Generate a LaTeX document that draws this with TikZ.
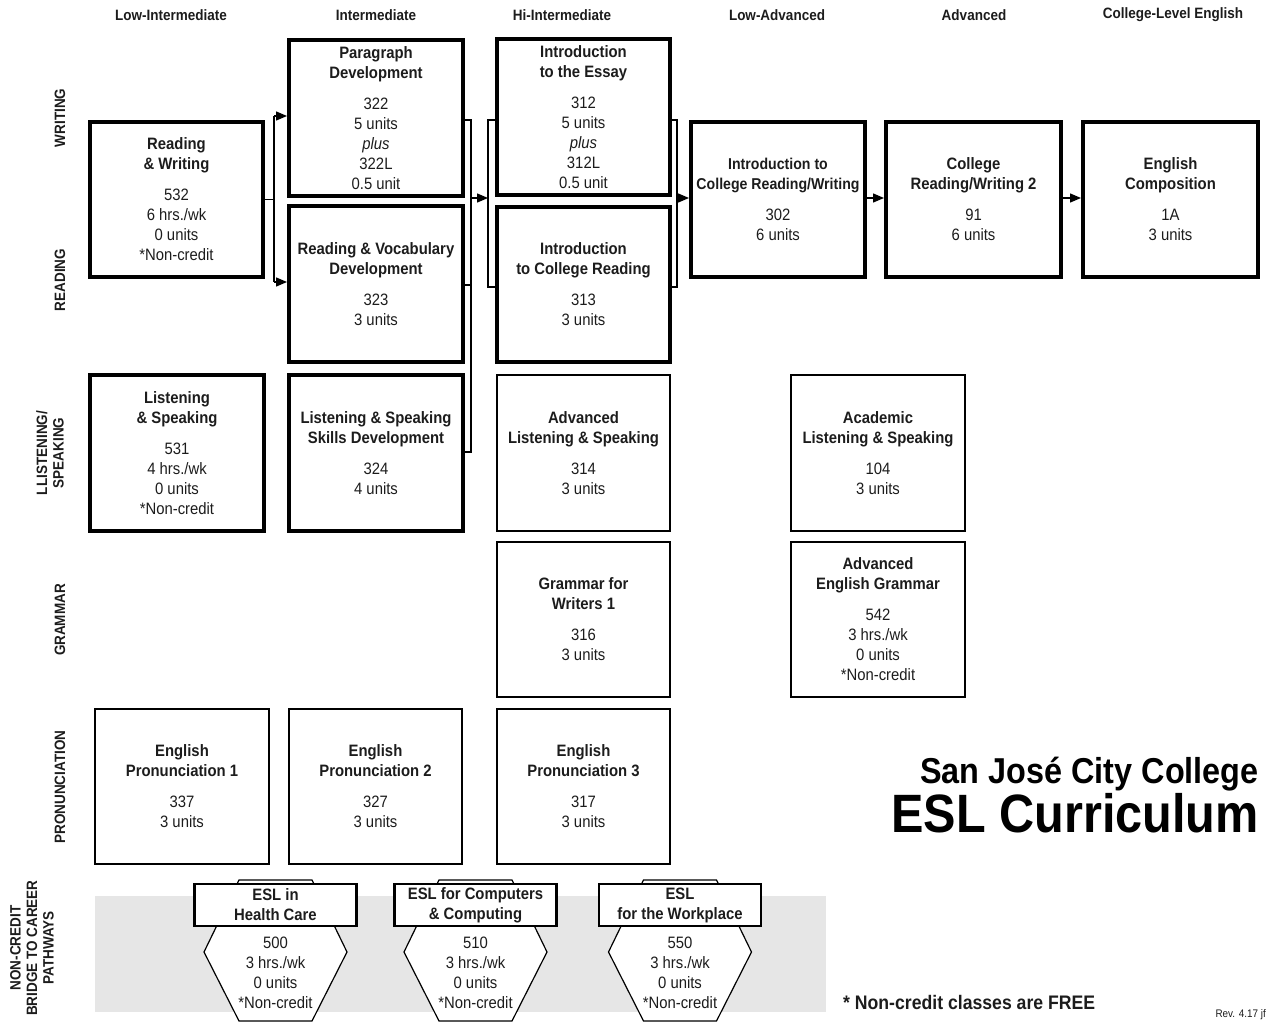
\documentclass[tikz,border=0pt]{standalone}
\usepackage{fontspec}
\setmainfont{Liberation Sans}[FakeStretch=0.9]
\usetikzlibrary{arrows.meta}
\definecolor{band}{RGB}{230,230,230}
\definecolor{ink}{RGB}{28,28,28}
\tikzset{
  box/.style={draw=black, align=center, minimum width=174pt, minimum height=156pt,
    inner sep=1pt, text=ink, font=\fontsize{16.5}{20}\selectfont},
  thk/.style={box, line width=4pt},
  thn/.style={box, line width=1.6pt},
  conn/.style={line width=1.4pt, black},
  arr/.style={conn, -{Triangle[length=11pt,width=9pt]}},
  hdr/.style={font=\bfseries\fontsize{15}{17}\selectfont, text=ink, inner sep=0pt},
  rowlab/.style={rotate=90, align=center, font=\bfseries\fontsize{15}{16.5}\selectfont, text=ink, inner sep=0pt},
  tag/.style={draw=black, fill=white, line width=2.2pt, minimum width=162pt, minimum height=42pt,
    inner sep=0pt, align=center, font=\bfseries\fontsize{16.5}{20}\selectfont, text=ink},
  hexfill/.style={draw=black, fill=white, line width=1.2pt},
  hextext/.style={align=center, inner sep=0pt, font=\fontsize{16.5}{20}\selectfont, text=ink},
}
\begin{document}
\begin{tikzpicture}[x=1pt,y=-1pt]
\useasboundingbox (0,0) rectangle (1267,1024);

% column headers
\node[hdr] (h1) at (171,15) {Low-Intermediate};
\node[hdr] (h2) at (376,15) {Intermediate};
\node[hdr] (h3) at (562,15) {Hi-Intermediate};
\node[hdr] (h4) at (777,15) {Low-Advanced};
\node[hdr] (h5) at (974,15) {Advanced};
\node[hdr] (h6) at (1173,15) {College-Level English};

% row labels
\node[rowlab] (rl1) at (60,118) {WRITING};
\node[rowlab] (rl2) at (60,280) {READING};
\node[rowlab] (rl3) at (50,453) {LLISTENING/\\SPEAKING};
\node[rowlab] (rl4) at (60,620) {GRAMMAR};
\node[rowlab] (rl5) at (60,787) {PRONUNCIATION};
\node[rowlab] (rl6) at (32,948) {NON-CREDIT\\BRIDGE TO CAREER\\PATHWAYS};

% writing / reading
\node[thk, minimum width=173pt, minimum height=155pt] (rw532) at (176.5,199.5)
  {\textbf{Reading}\\\textbf{\& Writing}\\[11pt]532\\6 hrs./wk\\0 units\\*Non-credit};
\node[thk] (p322) at (376,118)
  {\textbf{Paragraph}\\\textbf{Development}\\[11pt]322\\5 units\\\textit{plus}\\322L\\0.5 unit};
\node[thk] (rv323) at (376,284)
  {\textbf{Reading \& Vocabulary}\\\textbf{Development}\\[11pt]323\\3 units};
\node[thk, minimum width=173pt] (e312) at (583.5,117)
  {\textbf{Introduction}\\\textbf{to the Essay}\\[11pt]312\\5 units\\\textit{plus}\\312L\\0.5 unit};
\node[thk, minimum width=173pt, minimum height=155pt] (cr313) at (583.5,284.5)
  {\textbf{Introduction}\\\textbf{to College Reading}\\[11pt]313\\3 units};
\node[thk, minimum height=155pt] (c302) at (778,199.5)
  {{\fontsize{15.7}{20}\selectfont\textbf{Introduction to}}\\{\fontsize{15.7}{20}\selectfont\textbf{College Reading/Writing}}\\[11pt]302\\6 units};
\node[thk, minimum width=175pt, minimum height=155pt] (c91) at (973.5,199.5)
  {\textbf{College}\\\textbf{Reading/Writing 2}\\[11pt]91\\6 units};
\node[thk, minimum width=175pt, minimum height=155pt] (e1a) at (1170.5,199.5)
  {\textbf{English}\\\textbf{Composition}\\[11pt]1A\\3 units};

% listening / speaking
\node[thk] (ls531) at (177,453)
  {\textbf{Listening}\\\textbf{\& Speaking}\\[11pt]531\\4 hrs./wk\\0 units\\*Non-credit};
\node[thk] (ls324) at (376,453)
  {\textbf{Listening \& Speaking}\\\textbf{Skills Development}\\[11pt]324\\4 units};
\node[thn, minimum width=173pt] (ls314) at (583.5,453)
  {\textbf{Advanced}\\\textbf{Listening \& Speaking}\\[11pt]314\\3 units};
\node[thn] (ls104) at (878,453)
  {\textbf{Academic}\\\textbf{Listening \& Speaking}\\[11pt]104\\3 units};

% grammar
\node[thn, minimum width=173pt, minimum height=155pt] (g316) at (583.5,619.5)
  {\textbf{Grammar for}\\\textbf{Writers 1}\\[11pt]316\\3 units};
\node[thn, minimum height=155pt] (g542) at (878,619.5)
  {\textbf{Advanced}\\\textbf{English Grammar}\\[11pt]542\\3 hrs./wk\\0 units\\*Non-credit};

% pronunciation
\node[thn, minimum height=155pt] (p337) at (182,786.5)
  {\textbf{English}\\\textbf{Pronunciation 1}\\[11pt]337\\3 units};
\node[thn, minimum width=173pt, minimum height=155pt] (p327) at (375.5,786.5)
  {\textbf{English}\\\textbf{Pronunciation 2}\\[11pt]327\\3 units};
\node[thn, minimum width=173pt, minimum height=155pt] (p317) at (583.5,786.5)
  {\textbf{English}\\\textbf{Pronunciation 3}\\[11pt]317\\3 units};

% connectors: Low-Intermediate -> Intermediate
\coordinate (j1) at (274,199.5);
\coordinate (j1t) at (274,116);
\coordinate (j1b) at (274,282);
\draw[conn] (rw532.east) -- (j1);
\draw[conn] (j1t) -- (j1b);
\draw[arr] (j1t) -- (j1t -| p322.west);
\draw[arr] (j1b) -- (j1b -| rv323.west);

% Intermediate -> Hi-Intermediate
\coordinate (k1t) at (471,120);
\coordinate (k1m) at (471,285);
\coordinate (k1b) at (471,452);
\coordinate (k1a) at (471,198);
\draw[conn] (k1t -| p322.east) -- (k1t) -- (k1b) -- (k1b -| ls324.east);
\draw[conn] (k1m -| rv323.east) -- (k1m);
\coordinate (k2t) at (488,120);
\coordinate (k2b) at (488,287);
\coordinate (k2a) at (488,198);
\draw[conn, line width=1.2pt] (k2t -| e312.west) -- (k2t) -- (k2b) -- (k2b -| cr313.west);
\draw[arr] (k1a) -- (k2a);

% Hi-Intermediate -> Low-Advanced
\coordinate (m1t) at (677,120);
\coordinate (m1b) at (677,287);
\coordinate (m1a) at (677,198);
\draw[conn, line width=1.2pt] (m1t -| e312.east) -- (m1t) -- (m1b) -- (m1b -| cr313.east);
\draw[arr] (m1a) -- (m1a -| c302.west);

% Low-Advanced -> Advanced -> College
\draw[arr] (c302.east |- m1a) -- (m1a -| c91.west);
\draw[arr] (c91.east |- m1a) -- (m1a -| e1a.west);

% non-credit band
\fill[band] (95,896) rectangle (826,1012);

% hexagons
\foreach \cx/\nm/\tg/\num in {275.5/hA/{ESL in\\Health Care}/500, 475.5/hB/{ESL for Computers\\\& Computing}/510, 680/hC/{ESL\\for the Workplace}/550}{
  \draw[hexfill] (\cx-36.5,880) -- (\cx+36.5,880) -- (\cx+71.5,952) -- (\cx+36.5,1021)
     -- (\cx-36.5,1021) -- (\cx-71.5,952) -- cycle;
  \node[hextext] (\nm n) at (\cx,973) {\num\\3 hrs./wk\\0 units\\*Non-credit};
  \node[tag] (\nm t) at (\cx,905) {\tg};
}

% title
\node[anchor=base east, inner sep=0pt, font=\bfseries\fontsize{36}{40}\selectfont] (title1) at (1259,783) {San José City College};
\node[anchor=base east, inner sep=0pt, font=\bfseries\fontsize{54}{60}\selectfont] (title2) at (1259,832) {ESL Curriculum};

% footnotes
\node[anchor=base west, inner sep=0pt, font=\bfseries\fontsize{19.6}{22}\selectfont, text=ink] (fn) at (843,1009) {* Non-credit classes are FREE};
\node[anchor=base east, inner sep=0pt, font=\fontsize{11}{13}\selectfont, text=ink] (rev) at (1266,1017) {Rev. 4.17 jf};
\end{tikzpicture}
\end{document}
